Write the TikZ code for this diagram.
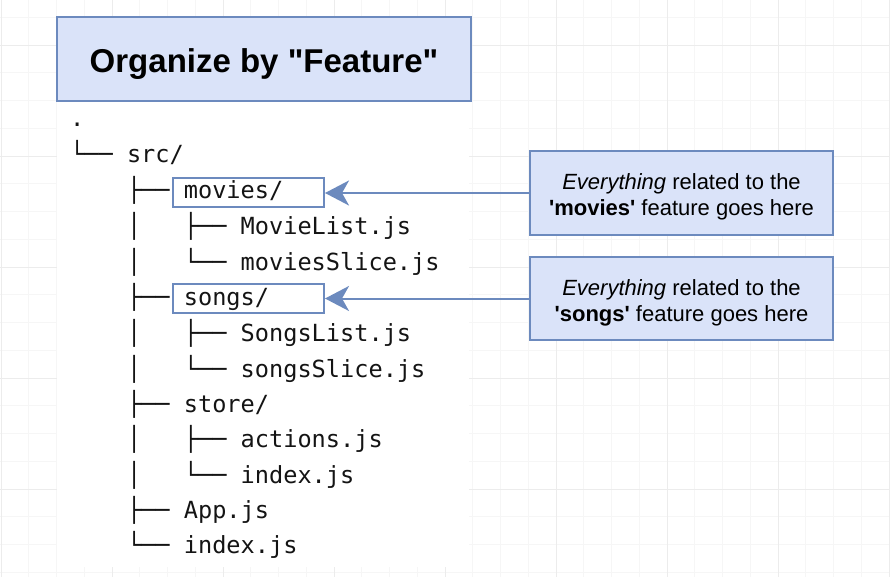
\documentclass[tikz,border=0pt]{standalone}
\usepackage{fontspec}
\setmainfont{Liberation Sans}
\setmonofont{DejaVu Sans Mono}
\usetikzlibrary{arrows.meta}
\definecolor{boxfill}{RGB}{218,227,249}
\definecolor{boxline}{RGB}{108,138,190}
\definecolor{gridminor}{RGB}{246,246,246}
\definecolor{gridmajor}{RGB}{236,236,236}
\definecolor{treetext}{RGB}{20,20,20}
\tikzset{
  treeline/.style={anchor=base west, inner sep=0pt, text=treetext,
    font=\fontsize{23.6}{28}\selectfont\ttfamily},
  bluebox/.style={draw=boxline, fill=boxfill, line width=2.2pt, inner sep=0pt},
  hlbox/.style={draw=boxline, line width=2pt, fill=none, inner sep=0pt,
    minimum width=151pt, minimum height=29pt},
  note/.style={bluebox, minimum width=303pt, minimum height=83pt, align=center,
    font=\fontsize{22}{25.5}\selectfont},
  pointer/.style={draw=boxline, line width=2pt,
    -{Stealth[length=24pt, width=25pt, inset=7pt]}}
}
\begin{document}
\begin{tikzpicture}[x=1pt, y=-1pt]
\useasboundingbox (0,0) rectangle (890,577);
% background grid
\foreach \i in {0,...,32} {
  \draw[gridminor, line width=0.8pt] ({1+27.75*\i},0) -- ({1+27.75*\i},577);
}
\foreach \i in {0,...,21} {
  \draw[gridminor, line width=0.8pt] (0,{-10.5+27.75*\i}) -- (890,{-10.5+27.75*\i});
}
\foreach \i in {0,...,8} {
  \draw[gridmajor, line width=0.8pt] ({1+111*\i},0) -- ({1+111*\i},577);
}
\foreach \i in {0,...,5} {
  \draw[gridmajor, line width=0.8pt] (0,{45+111*\i}) -- (890,{45+111*\i});
}
% white panel
\fill[white] (57,17) rectangle (469,567);
% title
\node[bluebox, minimum width=414pt, minimum height=84pt,
  font=\fontsize{33}{38}\selectfont\bfseries] (title) at (264,59)
  {\raisebox{-5.5pt}[\height][\depth]{Organize by \textquotedbl Feature\textquotedbl}};
% tree
\node[treeline] (t1)  at (70,127) {.};
\node[treeline] (t2)  at (70,163) {└──\ src/};
\node[treeline] (t3)  at (70,199) {\ \ \ \ ├──\ movies/};
\node[treeline] (t4)  at (70,234) {\ \ \ \ │\ \ \ ├──\ MovieList.js};
\node[treeline] (t5)  at (70,270) {\ \ \ \ │\ \ \ └──\ moviesSlice.js};
\node[treeline] (t6)  at (70,305) {\ \ \ \ ├──\ songs/};
\node[treeline] (t7)  at (70,341) {\ \ \ \ │\ \ \ ├──\ SongsList.js};
\node[treeline] (t8)  at (70,377) {\ \ \ \ │\ \ \ └──\ songsSlice.js};
\node[treeline] (t9)  at (70,412) {\ \ \ \ ├──\ store/};
\node[treeline] (t10) at (70,447) {\ \ \ \ │\ \ \ ├──\ actions.js};
\node[treeline] (t11) at (70,483) {\ \ \ \ │\ \ \ └──\ index.js};
\node[treeline] (t12) at (70,518) {\ \ \ \ ├──\ App.js};
\node[treeline] (t13) at (70,553) {\ \ \ \ └──\ index.js};
% highlight boxes
\node[hlbox] (mbox) at (248.5,192.5) {};
\node[hlbox] (sbox) at (248.5,298.5) {};
% notes
\node[note, minimum height=84pt] (n1) at (681.5,193)
  {\raisebox{-4.5pt}[\height][\depth]{\begin{tabular}{@{}c@{}}\textit{Everything} related to the\\[0.5pt]\textbf{\textquotesingle movies\textquotesingle} feature goes here\end{tabular}}};
\node[note] (n2) at (681.5,298.5)
  {\raisebox{-4.5pt}[\height][\depth]{\begin{tabular}{@{}c@{}}\textit{Everything} related to the\\[0.5pt]\textbf{\textquotesingle songs\textquotesingle} feature goes here\end{tabular}}};
% arrows
\draw[pointer] (n1.west) -- (n1.west -| mbox.east);
\draw[pointer] (n2.west) -- (n2.west -| sbox.east);
\end{tikzpicture}
\end{document}
